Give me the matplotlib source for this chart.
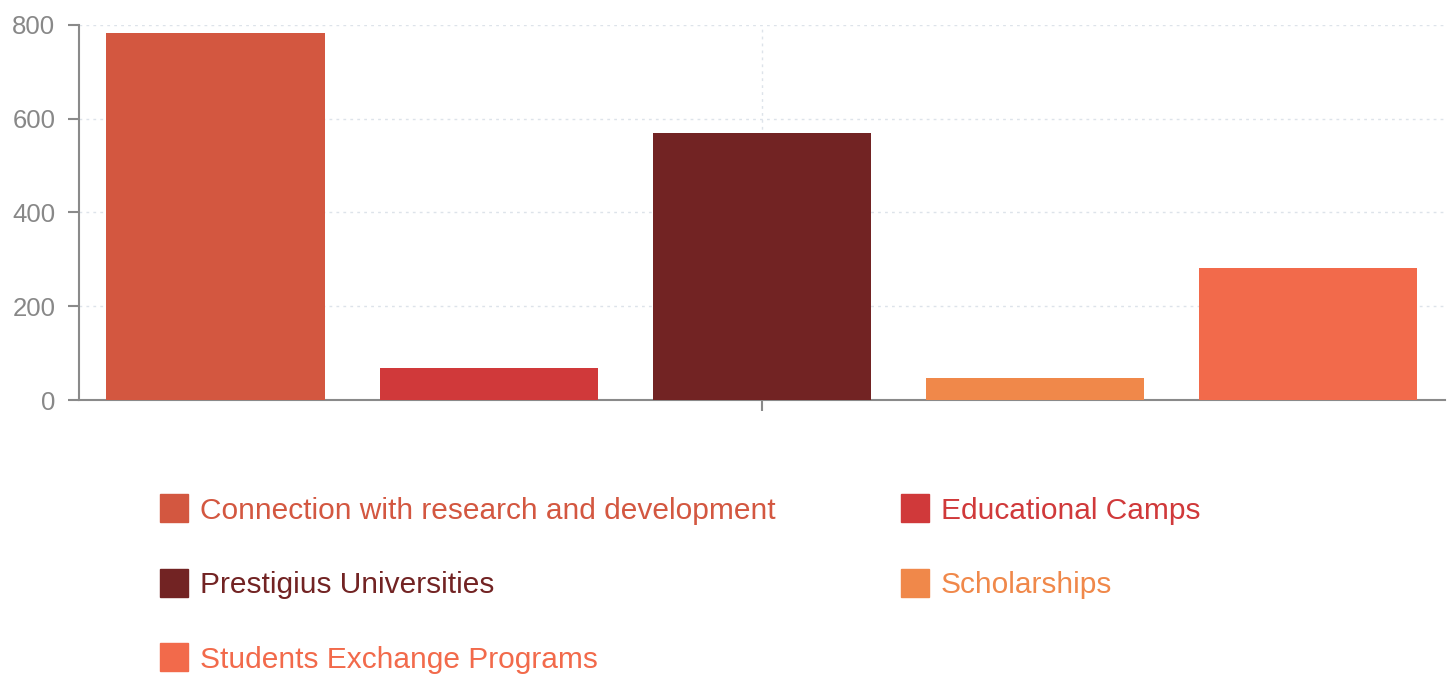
import matplotlib.pyplot as plt
from matplotlib.lines import Line2D

# data
categories = ['Connection with research and development', 'Educational Camps',
              'Prestigius Universities', 'Scholarships', 'Students Exchange Programs']
values = [783, 68, 569, 48, 281]
colors = ['#d35740', '#d0393a', '#722323', '#f0884a', '#f26a4b']
y_ticks = [0, 200, 400, 600, 800]

plt.rcParams['font.family'] = ['Liberation Sans', 'DejaVu Sans']

fig = plt.figure(figsize=(14.56, 6.74), dpi=100)
ax = fig.add_axes([0.0543, 0.4065, 0.938, 0.5565])

x = range(len(values))
ax.bar(x, values, width=0.8, color=colors, zorder=3)

ax.set_xlim(-0.5, len(values) - 0.5)
ax.set_ylim(0, 800)
ax.set_yticks(y_ticks)
ax.set_xticks([2])
ax.set_xticklabels([''])

ax.grid(True, color='#dde3ea', linestyle=(0, (2, 3)), linewidth=1, zorder=0)
for s in ['top', 'right']:
    ax.spines[s].set_visible(False)
for s in ['left', 'bottom']:
    ax.spines[s].set_color('#8a8a8a')
    ax.spines[s].set_linewidth(1.5)
ax.tick_params(axis='y', colors='#8a8a8a', labelsize=18.5, length=8, width=1.5, pad=9)
ax.tick_params(axis='x', colors='#8a8a8a', length=8, width=1.5)
for lbl in ax.get_yticklabels():
    lbl.set_color('#888888')

# legend, row-major order in two columns
order = [0, 2, 4, 1, 3]
handles = [Line2D([], [], marker='s', linestyle='none', markersize=20,
                  markerfacecolor=colors[i], markeredgecolor=colors[i]) for i in order]
labels = [categories[i] for i in order]
leg = fig.legend(handles, labels, ncol=2, loc='upper left',
                 bbox_to_anchor=(0.1008, 0.281), frameon=False, fontsize=21.5,
                 labelspacing=1.56, columnspacing=4.18, handletextpad=0.37,
                 handlelength=1.0, borderaxespad=0)
for t, i in zip(leg.get_texts(), order):
    t.set_color(colors[i])

fig.savefig('out.png', dpi=100)
